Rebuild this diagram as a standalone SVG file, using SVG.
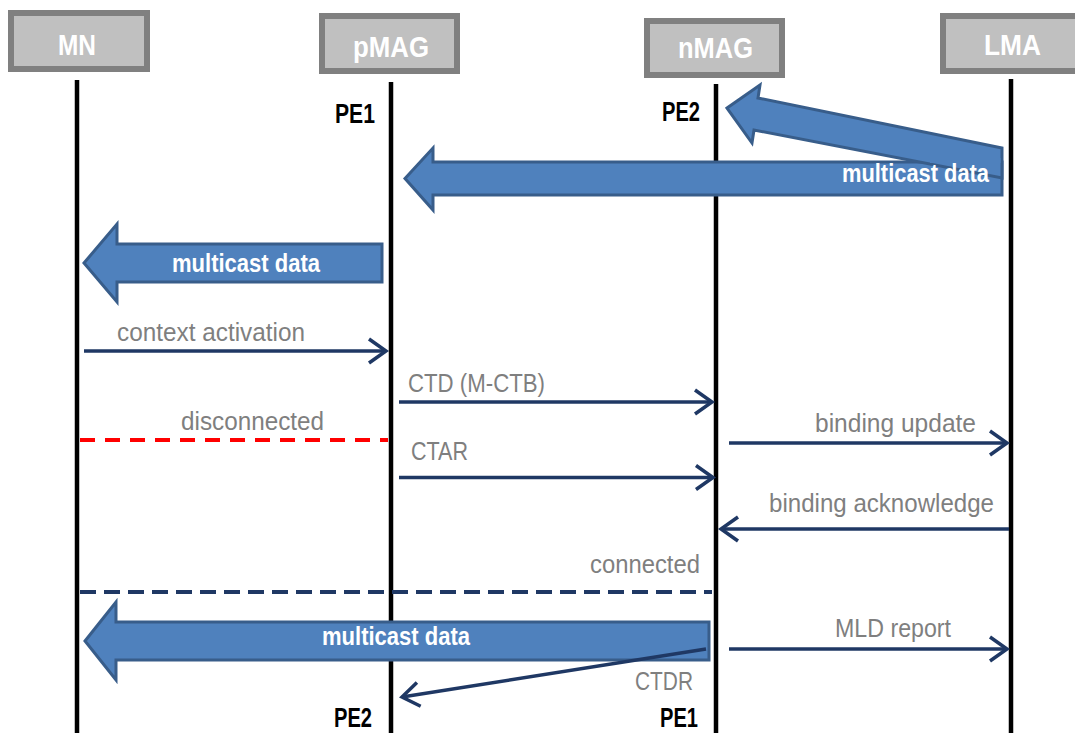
<svg xmlns="http://www.w3.org/2000/svg" width="1075" height="733" viewBox="0 0 1075 733">
<style>
.box{fill:#c0c0c0;stroke:#808080;stroke-width:6}
.hdr{font-family:"Liberation Sans",Arial,sans-serif;font-weight:bold;font-size:30px;fill:#ffffff}
.life{stroke:#000;stroke-width:4.5}
.pe{font-family:"Liberation Sans",Arial,sans-serif;font-weight:bold;font-size:27px;fill:#000}
.lbl{font-family:"Liberation Sans",Arial,sans-serif;font-size:26.5px;fill:#7f7f7f}
.big{fill:#4f81bd;stroke:#385d8a;stroke-width:3;stroke-linejoin:miter}
.bigtxt{font-family:"Liberation Sans",Arial,sans-serif;font-weight:bold;font-size:26px;fill:#ffffff}
.msg{stroke:#1f3864;stroke-width:3.5;fill:none;marker-end:url(#ah)}
.dashr{stroke:#ff0000;stroke-width:4;stroke-dasharray:15 10;fill:none}
.dashn{stroke:#1f3864;stroke-width:4;stroke-dasharray:16 8;fill:none}
</style>
<defs>
<marker id="ah" viewBox="-22 -16 26 32" refX="0" refY="0" markerWidth="26" markerHeight="32" markerUnits="userSpaceOnUse" orient="auto">
<path d="M-17,-12 L0,0 L-17,12" fill="none" stroke="#1f3864" stroke-width="3.5" stroke-linejoin="miter"/>
</marker>
</defs>
<rect width="1075" height="733" fill="#ffffff"/>

<g id="MN">
<rect class="box" x="11" y="13" width="136" height="56"/>
<text class="hdr" x="58" y="55" textLength="38" lengthAdjust="spacingAndGlyphs">MN</text>
<line class="life" x1="77" y1="80" x2="77" y2="733"/>
</g>
<g id="pMAG">
<rect class="box" x="322" y="16" width="135" height="55"/>
<text class="hdr" x="353" y="57" textLength="76" lengthAdjust="spacingAndGlyphs">pMAG</text>
<line class="life" x1="391" y1="82" x2="391" y2="733"/>
</g>
<g id="nMAG">
<rect class="box" x="647" y="21" width="135" height="54"/>
<text class="hdr" x="678" y="58" textLength="75" lengthAdjust="spacingAndGlyphs">nMAG</text>
<line class="life" x1="716" y1="84" x2="716" y2="733"/>
</g>
<g id="LMA">
<rect class="box" x="943" y="16" width="136" height="55"/>
<text class="hdr" x="984" y="55" textLength="57" lengthAdjust="spacingAndGlyphs">LMA</text>
<line class="life" x1="1011" y1="79" x2="1011" y2="733"/>
</g>

<g id="pe-labels">
<text class="pe" x="335" y="123" textLength="40" lengthAdjust="spacingAndGlyphs">PE1</text>
<text class="pe" x="662" y="121" textLength="38" lengthAdjust="spacingAndGlyphs">PE2</text>
<text class="pe" x="334" y="727" textLength="38" lengthAdjust="spacingAndGlyphs">PE2</text>
<text class="pe" x="660" y="727" textLength="38" lengthAdjust="spacingAndGlyphs" font-size="26">PE1</text>
</g>

<g id="connectors">
<!-- LMA -> pMAG multicast data (horizontal) -->
<polygon class="big" points="405,178.5 433,148 433,162 1002,162 1002,195 433,195 433,210"/>
<!-- LMA -> nMAG multicast data (diagonal) -->
<polygon class="big" points="727,108 760,85 758,98 1002,148 1002,178 754,130 752,143"/>
<rect x="930" y="158" width="70.5" height="5" fill="#4f81bd"/>
<text class="bigtxt" x="842" y="182" textLength="147" lengthAdjust="spacingAndGlyphs">multicast data</text>

<!-- pMAG -> MN multicast data -->
<polygon class="big" points="84,263 117,224 117,244 382,244 382,282 117,282 117,302"/>
<text class="bigtxt" x="172" y="272" textLength="148" lengthAdjust="spacingAndGlyphs">multicast data</text>

<!-- context activation -->
<line class="msg" x1="84" y1="351" x2="386" y2="351"/>
<text class="lbl" x="117" y="341" textLength="188" lengthAdjust="spacingAndGlyphs">context activation</text>

<!-- CTD (M-CTB) -->
<line class="msg" x1="399" y1="402" x2="712" y2="402"/>
<text class="lbl" x="408" y="392" textLength="137" lengthAdjust="spacingAndGlyphs">CTD (M-CTB)</text>

<!-- disconnected -->
<line class="dashr" x1="80" y1="440" x2="388" y2="440"/>
<text class="lbl" x="181" y="430" textLength="143" lengthAdjust="spacingAndGlyphs">disconnected</text>

<!-- binding update -->
<line class="msg" x1="729" y1="443" x2="1007" y2="443"/>
<text class="lbl" x="815" y="432" textLength="161" lengthAdjust="spacingAndGlyphs">binding update</text>

<!-- CTAR -->
<line class="msg" x1="399" y1="477.5" x2="713" y2="477.5"/>
<text class="lbl" x="411" y="460" textLength="57" lengthAdjust="spacingAndGlyphs">CTAR</text>

<!-- binding acknowledge -->
<line class="msg" x1="1009" y1="529" x2="721" y2="529"/>
<text class="lbl" x="769" y="512" textLength="225" lengthAdjust="spacingAndGlyphs">binding acknowledge</text>

<!-- connected -->
<line class="dashn" x1="80" y1="592" x2="712" y2="592"/>
<text class="lbl" x="590" y="573" textLength="110" lengthAdjust="spacingAndGlyphs">connected</text>

<!-- nMAG -> MN multicast data -->
<polygon class="big" points="85,641 116,602 116,622 709,622 709,660 116,660 116,680"/>
<text class="bigtxt" x="322" y="645" textLength="148" lengthAdjust="spacingAndGlyphs">multicast data</text>

<!-- CTDR -->
<line class="msg" x1="706" y1="649" x2="402" y2="697"/>
<text class="lbl" x="635" y="690" textLength="58" lengthAdjust="spacingAndGlyphs">CTDR</text>

<!-- MLD report -->
<line class="msg" x1="729" y1="649" x2="1007" y2="649"/>
<text class="lbl" x="835" y="637" textLength="116" lengthAdjust="spacingAndGlyphs">MLD report</text>
</g>
</svg>
